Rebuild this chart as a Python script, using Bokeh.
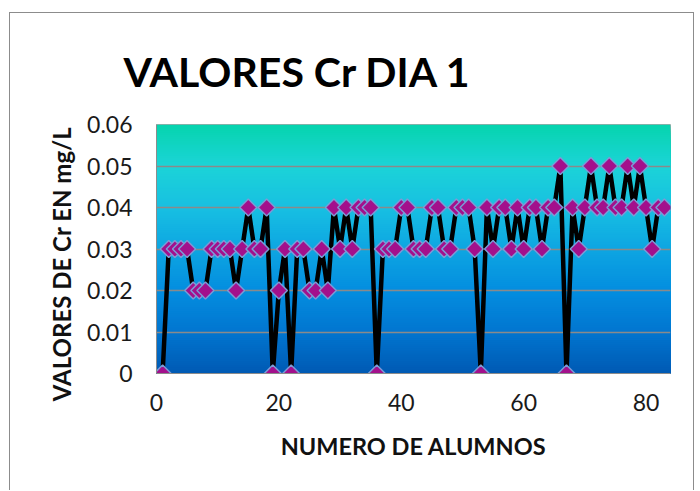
from bokeh.plotting import figure
from bokeh.models import Range1d, FixedTicker, CustomJSTickFormatter, Title
from bokeh.embed import file_html
from bokeh.resources import INLINE
import numpy as np

# ---- data ----
alumnos = [1, 2, 3, 4, 5, 6, 7, 8, 9, 10,
           11, 12, 13, 14, 15, 16, 17, 18, 19, 20,
           21, 22, 23, 24, 25, 26, 27, 28, 29, 30,
           31, 32, 33, 34, 35, 36, 37, 38, 39, 40,
           41, 42, 43, 44, 45, 46, 47, 48, 49, 50,
           51, 52, 53, 54, 55, 56, 57, 58, 59, 60,
           61, 62, 63, 64, 65, 66, 67, 68, 69, 70,
           71, 72, 73, 74, 75, 76, 77, 78, 79, 80,
           81, 82, 83]
valores_cr = [0, 0.03, 0.03, 0.03, 0.03, 0.02, 0.02, 0.02, 0.03, 0.03,
              0.03, 0.03, 0.02, 0.03, 0.04, 0.03, 0.03, 0.04, 0, 0.02,
              0.03, 0, 0.03, 0.03, 0.02, 0.02, 0.03, 0.02, 0.04, 0.03,
              0.04, 0.03, 0.04, 0.04, 0.04, 0, 0.03, 0.03, 0.03, 0.04,
              0.04, 0.03, 0.03, 0.03, 0.04, 0.04, 0.03, 0.03, 0.04, 0.04,
              0.04, 0.03, 0, 0.04, 0.03, 0.04, 0.04, 0.03, 0.04, 0.03,
              0.04, 0.04, 0.03, 0.04, 0.04, 0.05, 0, 0.04, 0.03, 0.04,
              0.05, 0.04, 0.04, 0.05, 0.04, 0.04, 0.05, 0.04, 0.05, 0.04,
              0.03, 0.04, 0.04]
x_ticks = [0, 20, 40, 60, 80]
y_ticks = [0, 0.01, 0.02, 0.03, 0.04, 0.05, 0.06]
titulo = "VALORES Cr DIA 1"
x_label = "NUMERO DE ALUMNOS"
y_label = "VALORES DE Cr EN mg/L"

X_MAX = 84
Y_MAX = 0.06
FONT = "Lato"

p = figure(width=685, height=478,
           x_range=Range1d(0, X_MAX), y_range=Range1d(0, Y_MAX),
           output_backend="svg", toolbar_location=None,
           min_border_left=146, min_border_right=25,
           min_border_top=111, min_border_bottom=118)
p.styles = {"margin-left": "9px", "margin-top": "12px",
            "border-top": "1px solid #8c8c8c",
            "border-left": "1px solid #8c8c8c",
            "border-right": "1px solid #8c8c8c"}
p.background_fill_color = "white"
p.border_fill_color = "white"
p.outline_line_color = "#a8a8a8"
p.outline_line_width = 1

# ---- gradient background of plot area (style only, stacked rects) ----
stops_pos = [0.0, 1/6, 2/6, 3/6, 4/6, 5/6, 1.0]
stops_rgb = [(0, 90, 180), (2, 118, 208), (4, 142, 224), (14, 166, 226),
             (24, 192, 226), (28, 212, 216), (6, 212, 174)]
nb = 120
tops = np.linspace(Y_MAX, Y_MAX / nb, nb)   # from top band downwards
cols = []
for tp in tops:
    t = (tp - Y_MAX / nb / 2) / Y_MAX
    r = np.interp(t, stops_pos, [c[0] for c in stops_rgb])
    g = np.interp(t, stops_pos, [c[1] for c in stops_rgb])
    b = np.interp(t, stops_pos, [c[2] for c in stops_rgb])
    cols.append("#%02x%02x%02x" % (int(r), int(g), int(b)))
p.quad(left=0, right=X_MAX, bottom=0, top=tops,
       fill_color=cols, line_color=None, level="image")

# ---- grid ----
p.xgrid.grid_line_color = None
p.ygrid.grid_line_color = "#8a8a8a"
p.ygrid.grid_line_width = 1.5
p.ygrid.ticker = FixedTicker(ticks=y_ticks)

# ---- data ----
p.line(alumnos, valores_cr, line_color="black", line_width=4.5)
p.scatter(alumnos, valores_cr, marker="square", angle=np.pi / 4, size=12,
          fill_color="#a3108c", line_color="#7b9bd6", line_width=1.5)

# ---- axes ----
p.xaxis.ticker = FixedTicker(ticks=x_ticks)
p.yaxis.ticker = FixedTicker(ticks=y_ticks)
p.yaxis.formatter = CustomJSTickFormatter(code="return String(Math.round(tick*100)/100);")
for ax in (p.xaxis[0], p.yaxis[0]):
    ax.major_tick_line_color = None
    ax.minor_tick_line_color = None
    ax.major_tick_out = 0
    ax.major_tick_in = 0
    ax.axis_line_color = "#8c8c8c"
    ax.axis_line_width = 1
    ax.major_label_text_font = FONT
    ax.major_label_text_font_size = "23px"
    ax.major_label_text_color = "#1a1a1a"
    ax.axis_label_text_font = FONT
    ax.axis_label_text_font_style = "bold"
    ax.axis_label_text_color = "#111111"

p.yaxis.major_label_standoff = 24
# em/en spaces at the end shift the centred label towards the bottom, as in the original
p.yaxis.axis_label = y_label + "\u2003\u2002"
p.yaxis.axis_label_text_font_size = "24px"
p.yaxis.axis_label_standoff = 8

p.xaxis.major_label_standoff = 20
p.xaxis.axis_label = x_label
p.xaxis.axis_label_text_font_size = "23.5px"
p.xaxis.axis_label_standoff = 18

p.add_layout(Title(text=titulo, text_font=FONT, text_font_size="41px",
                   text_font_style="bold", text_color="black",
                   align="left", offset=-33, standoff=58), "above")

open("out.html", "w").write(file_html(p, INLINE))
